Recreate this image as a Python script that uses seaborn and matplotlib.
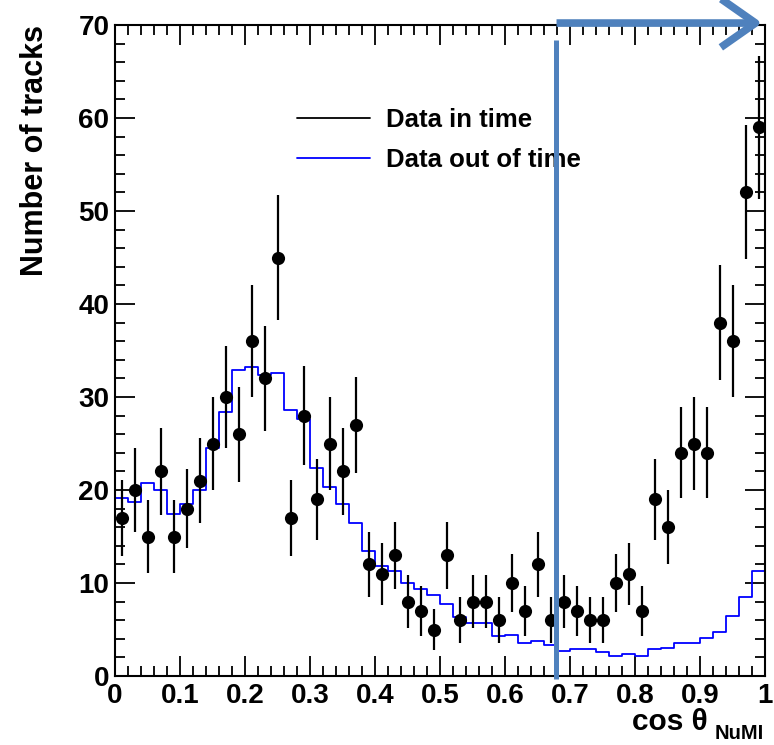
import numpy as np
import pandas as pd
import matplotlib
matplotlib.use("Agg")
import matplotlib.pyplot as plt
import seaborn as sns
from matplotlib.lines import Line2D
from matplotlib.patches import FancyArrowPatch
from matplotlib.ticker import MultipleLocator, FormatStrFormatter

# cos(theta_NuMI) histogram, 50 bins over [0, 1]
bin_edges = np.linspace(0.0, 1.0, 51)
bin_centers = 0.5 * (bin_edges[:-1] + bin_edges[1:])

# Tracks in the beam time window (points with Poisson errors)
in_time_counts = [17, 20, 15, 22, 15, 18, 21, 25, 30, 26,
                  36, 32, 45, 17, 28, 19, 25, 22, 27, 12,
                  11, 13, 8, 7, 5, 13, 6, 8, 8, 6,
                  10, 7, 12, 6, 8, 7, 6, 6, 10, 11,
                  7, 19, 16, 24, 25, 24, 38, 36, 52, 59]

# Out-of-time tracks, normalised (blue step histogram)
out_of_time = [19.1, 18.7, 20.8, 20.0, 17.4, 18.5, 20.0, 24.5, 28.4, 32.9,
               33.2, 32.4, 32.6, 28.6, 27.6, 22.4, 20.3, 18.5, 16.4, 13.4,
               11.8, 11.3, 10.0, 9.4, 8.7, 7.7, 6.3, 5.7, 5.7, 4.3,
               4.4, 3.6, 3.8, 3.3, 2.7, 2.85, 2.85, 2.6, 2.2, 2.4,
               2.2, 2.85, 3.05, 3.6, 3.6, 4.1, 4.7, 6.4, 8.5, 11.3]

legend_labels = ["Data in time", "Data out of time"]
x_title = "cos θ"
x_title_sub = "NuMI"
y_title = "Number of tracks"
cut_value = 0.678

df = pd.DataFrame({"cos_theta": bin_centers,
                   "in_time": in_time_counts,
                   "out_of_time": out_of_time})
df["err"] = np.sqrt(df["in_time"])

sns.set_theme(style="white")
plt.rcParams["font.family"] = ["Liberation Sans", "DejaVu Sans"]
plt.rcParams["font.weight"] = "bold"
plt.rcParams["text.color"] = "black"
plt.rcParams["xtick.labelcolor"] = "black"
plt.rcParams["ytick.labelcolor"] = "black"

W, H = 774, 745
fig = plt.figure(figsize=(W / 100, H / 100), dpi=100)
ax = fig.add_axes([115 / W, (H - 676) / H, 650 / W, 651 / H])
ax.set_facecolor("white")

# out-of-time histogram as a step outline
sns.histplot(data=df, x="cos_theta", weights="out_of_time",
             binwidth=0.02, binrange=(0.0, 1.0),
             element="step", fill=False, color="#0000ff", linewidth=1.3,
             ax=ax, zorder=2)

# in-time data: error bars + filled markers
ax.errorbar(df["cos_theta"], df["in_time"], yerr=df["err"], fmt="none",
            ecolor="black", elinewidth=1.6, capsize=0, zorder=3)
sns.scatterplot(data=df, x="cos_theta", y="in_time", color="black",
                s=90, edgecolor="black", linewidth=0, ax=ax, zorder=4)

ax.set_xlim(0, 1)
ax.set_ylim(0, 70)
ax.set_xlabel("")
ax.set_ylabel("")

for sp in ax.spines.values():
    sp.set_visible(True)
    sp.set_color("black")
    sp.set_linewidth(1.5)

ax.xaxis.set_major_locator(MultipleLocator(0.1))
ax.xaxis.set_minor_locator(MultipleLocator(0.02))
ax.yaxis.set_major_locator(MultipleLocator(10))
ax.yaxis.set_minor_locator(MultipleLocator(2))
ax.xaxis.set_major_formatter(FormatStrFormatter("%g"))
ax.yaxis.set_major_formatter(FormatStrFormatter("%g"))
ax.tick_params(which="both", direction="in", top=True, right=True,
               bottom=True, left=True, color="black", width=1.3,
               labelcolor="black")
ax.tick_params(which="major", length=14.5)
ax.tick_params(which="minor", length=7.5)
ax.tick_params(axis="x", which="major", labelsize=20, pad=5)
ax.tick_params(axis="y", which="major", labelsize=20, pad=4)
for lab in ax.get_xticklabels() + ax.get_yticklabels():
    lab.set_fontweight("bold")

# legend (no frame)
handles = [Line2D([0], [0], color="black", lw=1.3),
           Line2D([0], [0], color="#0000ff", lw=1.3)]
leg = ax.legend(handles, legend_labels, loc="upper left",
                bbox_to_anchor=(0.28, 0.872), frameon=False,
                handlelength=2.85, handletextpad=0.6, labelspacing=0.6,
                borderpad=0, borderaxespad=0,
                prop={"weight": "bold", "size": 18.5})
for t in leg.get_texts():
    t.set_color("black")

# axis titles
fig.text(35 / W, 1 - 25 / H, y_title, rotation=90, ha="center", va="top",
         fontsize=22, fontweight="bold", color="black")
fig.text(708 / W, 1 - 730 / H, x_title, ha="right", va="baseline",
         fontsize=21.5, fontweight="bold", color="black")
fig.text(764 / W, 1 - 739 / H, x_title_sub, ha="right", va="baseline",
         fontsize=14.5, fontweight="bold", color="black")

# cut marker: vertical line and arrow pointing to the forward region
cut_color = "#4f81bd"
ax.plot([cut_value, cut_value], [-0.005, 0.977],
        transform=ax.get_xaxis_transform(), color=cut_color, lw=3.6,
        solid_capstyle="butt", clip_on=False, zorder=10)
arrow = FancyArrowPatch((cut_value - 0.003, 1.003), (1.0, 1.003),
                        transform=ax.get_xaxis_transform(),
                        arrowstyle="->,head_length=1.0,head_width=0.7",
                        mutation_scale=25, lw=5.5, color=cut_color,
                        capstyle="butt", joinstyle="round",
                        clip_on=False, zorder=10)
ax.add_patch(arrow)

fig.savefig("out.png", dpi=100, facecolor="white")
